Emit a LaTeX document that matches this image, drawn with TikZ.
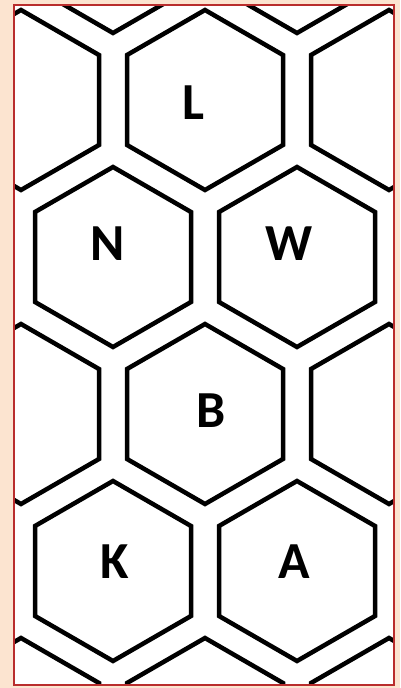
\documentclass[tikz,border=0pt]{standalone}
\usepackage{fontspec}
\setmainfont{Carlito}
\definecolor{peach}{RGB}{252,228,208}
\definecolor{framered}{RGB}{185,45,45}
\tikzset{
  hexline/.style={draw=black,line width=4.5pt,line join=miter},
  lbl/.style={font=\fontsize{52}{52}\selectfont\bfseries,text=black,inner sep=0pt},
  hexcell/.pic={\path[hexline] (0,-90)--(78,-45)--(78,45)--(0,90)--(-78,45)--(-78,-45)--cycle;}
}
\begin{document}
\begin{tikzpicture}[x=1pt,y=-1pt]
\useasboundingbox (0,0) rectangle (400,688);
\fill[peach] (0,0) rectangle (400,688);
\fill[white] (14,5) rectangle (394,685);
\begin{scope}
\clip (14,5) rectangle (394,685);
% rows of hexagons: row spacing 157, column spacing 92
\foreach \cx in {113,297}{
  \pic at (\cx,-57) {hexcell};
  \pic at (\cx,257) {hexcell};
  \pic at (\cx,571) {hexcell};
}
\foreach \cx in {21,205,389}{
  \pic at (\cx,100) {hexcell};
  \pic at (\cx,414) {hexcell};
  \pic at (\cx,728) {hexcell};
}
\end{scope}
\draw[framered,line width=2pt] (14,5) rectangle (394,685);
\node[lbl] (L) at (193,103) {L};
\node[lbl] (N) at (108,244) {N};
\node[lbl] (W) at (289,244) {W};
\node[lbl] (B) at (211,411) {B};
\node[lbl] (K) at (115,562) {K};
\node[lbl] (A) at (294,562) {A};
\end{tikzpicture}
\end{document}
